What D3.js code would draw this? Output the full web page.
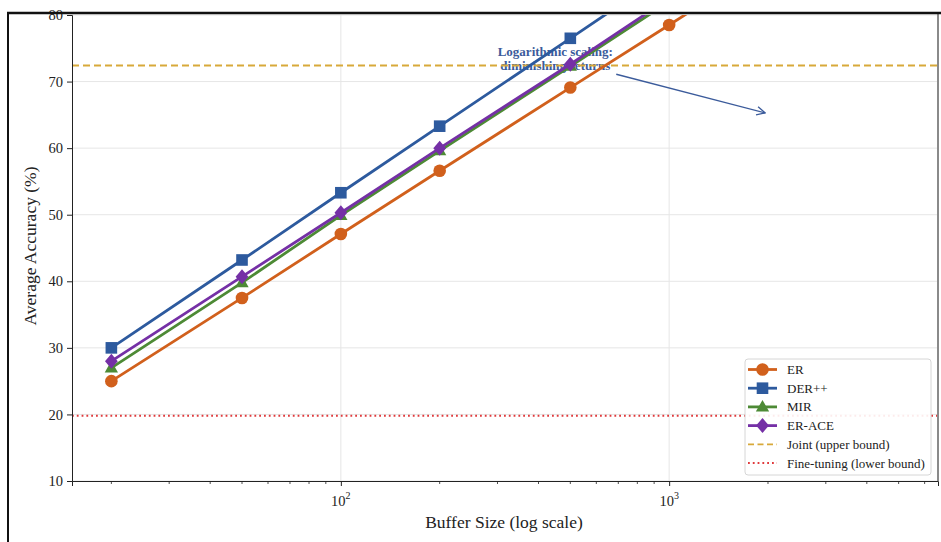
<!DOCTYPE html>
<html>
<head>
<meta charset="utf-8">
<script src="https://cdn.jsdelivr.net/npm/d3@7"></script>
<style>
  body { margin: 0; background: #fff; }
  svg { display: block; font-family: "Liberation Serif", "DejaVu Serif", serif; }
</style>
</head>
<body>
<div id="chart"></div>
<script>
// buffer sizes (log axis)
const bufferSizes = [20, 50, 100, 200, 500, 1000, 2000, 5000];

// average accuracy per method (above 80 is clipped)
const erAcc     = [25.0, 37.5, 47.1, 56.6, 69.1, 78.5, 88.0, 98.0];
const derAcc    = [30.0, 43.2, 53.3, 63.3, 76.5, 86.5, 95.5, 99.0];
const mirAcc    = [27.0, 39.8, 49.9, 59.6, 72.3, 82.0, 91.5, 98.5];
const eraceAcc  = [28.0, 40.7, 50.3, 60.0, 72.6, 82.5, 92.0, 98.8];

const jointAcc = 72.4;      // upper bound
const finetuneAcc = 19.8;   // lower bound

const yTicks = [10, 20, 30, 40, 50, 60, 70, 80];
const xMajorTicks = [100, 1000];
const xMinorTicks = [20, 30, 40, 50, 60, 70, 80, 90, 200, 300, 400, 500, 600, 700, 800, 900,
                     2000, 3000, 4000, 5000, 6000];

const legendLabels = ["ER", "DER++", "MIR", "ER-ACE", "Joint (upper bound)", "Fine-tuning (lower bound)"];

// annotation: text anchor (data) and arrow start/end (data)
const noteLines = ["Logarithmic scaling:", "diminishing returns"];
const notePos = [450, 73.85];
const arrowFrom = [690, 71.1];
const arrowTo = [1960, 65.3];

const series = [
  { name: "ER",     values: erAcc,    color: "#d1601c", marker: "circle" },
  { name: "DER++",  values: derAcc,   color: "#2d5a9e", marker: "square" },
  { name: "MIR",    values: mirAcc,   color: "#4d8a35", marker: "triangle" },
  { name: "ER-ACE", values: eraceAcc, color: "#7530a6", marker: "diamond" }
];

const W = 941, H = 542;
const margin = { top: 15, right: 3, bottom: 61, left: 72 };
const width = W - margin.left - margin.right,
      height = H - margin.top - margin.bottom;

const svg = d3.select("#chart").append("svg")
  .attr("width", W).attr("height", H);

const g = svg.append("g").attr("transform", `translate(${margin.left},${margin.top})`);

const lo = Math.log10(20), hi = Math.log10(5000), pad = (hi - lo) * 0.05;
const x = d3.scaleLog().domain([Math.pow(10, lo - pad), Math.pow(10, hi + pad)]).range([0, width]);
const y = d3.scaleLinear().domain([10, 80]).range([height, 0]);

// grid
g.append("g").selectAll("line").data(yTicks).enter().append("line")
  .attr("x1", 0).attr("x2", width)
  .attr("y1", d => y(d)).attr("y2", d => y(d))
  .attr("stroke", "#e6e6e6").attr("stroke-width", 1);
g.append("g").selectAll("line").data(xMajorTicks).enter().append("line")
  .attr("y1", 0).attr("y2", height)
  .attr("x1", d => x(d)).attr("x2", d => x(d))
  .attr("stroke", "#e6e6e6").attr("stroke-width", 1);

const defs = svg.append("defs");
defs.append("clipPath").attr("id", "clip")
  .append("rect").attr("width", width).attr("height", height);
defs.append("marker").attr("id", "arrowhead")
  .attr("viewBox", "0 0 10 10").attr("refX", 9).attr("refY", 5)
  .attr("markerWidth", 8).attr("markerHeight", 8).attr("orient", "auto")
  .append("path").attr("d", "M1,1 L9,5 L1,9")
  .attr("fill", "none").attr("stroke", "#3b5b9b").attr("stroke-width", 1.3);

// annotation (drawn below the lines)
const noteColor = "#3b5b9b";
g.append("text")
  .attr("x", x(notePos[0])).attr("y", y(notePos[1]))
  .attr("text-anchor", "middle")
  .attr("font-size", 13).attr("font-weight", "bold").attr("fill", noteColor)
  .selectAll("tspan").data(noteLines).enter().append("tspan")
  .attr("x", x(notePos[0])).attr("dy", (d, i) => i === 0 ? 0 : 14)
  .text(d => d);
g.append("line")
  .attr("x1", x(arrowFrom[0])).attr("y1", y(arrowFrom[1]))
  .attr("x2", x(arrowTo[0])).attr("y2", y(arrowTo[1]))
  .attr("stroke", noteColor).attr("stroke-width", 1.3)
  .attr("marker-end", "url(#arrowhead)");

const plot = g.append("g").attr("clip-path", "url(#clip)");

// reference lines
plot.append("line")
  .attr("x1", 0).attr("x2", width).attr("y1", y(jointAcc)).attr("y2", y(jointAcc))
  .attr("stroke", "#d8a93a").attr("stroke-width", 2).attr("stroke-dasharray", "7,4");
plot.append("line")
  .attr("x1", 0).attr("x2", width).attr("y1", y(finetuneAcc)).attr("y2", y(finetuneAcc))
  .attr("stroke", "#e0393b").attr("stroke-width", 1.8).attr("stroke-dasharray", "1.8,3");

const line = d3.line().x((d, i) => x(bufferSizes[i])).y(d => y(d));

function drawMarker(sel, type, color, s) {
  if (type === "circle") {
    sel.append("circle").attr("r", 6.3 * s).attr("fill", color);
  } else if (type === "square") {
    sel.append("rect").attr("x", -5.8 * s).attr("y", -5.8 * s)
      .attr("width", 11.6 * s).attr("height", 11.6 * s).attr("fill", color);
  } else if (type === "triangle") {
    const r = 7 * s;
    sel.append("path").attr("d", `M0,${-r} L${r * 0.95},${r * 0.65} L${-r * 0.95},${r * 0.65} Z`).attr("fill", color);
  } else {
    const r = 7.5 * s;
    sel.append("path").attr("d", `M0,${-r} L${r * 0.85},0 L0,${r} L${-r * 0.85},0 Z`).attr("fill", color);
  }
}

series.forEach(s => {
  plot.append("path").datum(s.values)
    .attr("d", line)
    .attr("fill", "none").attr("stroke", s.color).attr("stroke-width", 2.8);
  s.values.forEach((v, i) => {
    const m = plot.append("g").attr("transform", `translate(${x(bufferSizes[i])},${y(v)})`);
    drawMarker(m, s.marker, s.color, 1);
  });
});

// axes
const yAxis = g.append("g").call(d3.axisLeft(y).tickValues(yTicks).tickSize(5).tickPadding(4));
yAxis.select(".domain").attr("stroke", "#222");
yAxis.selectAll(".tick line").attr("stroke", "#222");
yAxis.selectAll("text").attr("font-size", 14.5).attr("fill", "#222")
  .attr("font-family", "Liberation Serif, serif");

const xAxis = g.append("g").attr("transform", `translate(0,${height})`)
  .call(d3.axisBottom(x).tickValues(xMajorTicks).tickSize(5).tickFormat(""));
xAxis.select(".domain").attr("stroke", "#222");
xAxis.selectAll(".tick line").attr("stroke", "#222");
g.append("g").attr("transform", `translate(0,${height})`)
  .selectAll("line").data(xMinorTicks).enter().append("line")
  .attr("x1", d => x(d)).attr("x2", d => x(d)).attr("y1", 0).attr("y2", 3)
  .attr("stroke", "#222").attr("stroke-width", 0.8);
const xl = g.append("g").selectAll("text").data(xMajorTicks).enter().append("text")
  .attr("x", d => x(d)).attr("y", height + 25)
  .attr("text-anchor", "middle").attr("font-size", 14.5).attr("fill", "#222");
xl.append("tspan").text("10");
xl.append("tspan").attr("font-size", 10).attr("dy", -7).text(d => Math.round(Math.log10(d)));

// axis titles
g.append("text")
  .attr("x", width / 2 - 1).attr("y", height + 47)
  .attr("text-anchor", "middle").attr("font-size", 17.5).attr("fill", "#222")
  .text("Buffer Size (log scale)");
g.append("text")
  .attr("transform", `translate(${-36},${height / 2 - 2}) rotate(-90)`)
  .attr("text-anchor", "middle").attr("font-size", 17.5).attr("fill", "#222")
  .text("Average Accuracy (%)");

// right spine
g.append("line").attr("x1", width).attr("x2", width).attr("y1", -3).attr("y2", height)
  .attr("stroke", "#8a8a8a").attr("stroke-width", 2);

// legend
const legend = g.append("g").attr("transform", `translate(${745 - margin.left},${359 - margin.top})`);
legend.append("rect").attr("width", 186).attr("height", 116).attr("rx", 3)
  .attr("fill", "#fff").attr("fill-opacity", 0.9).attr("stroke", "#d6d6d6");
const legendRows = legendLabels.map((lab, i) => ({ lab, i }));
legendRows.forEach(({ lab, i }) => {
  const ly = 10.5 + i * 18.7;
  const row = legend.append("g").attr("transform", `translate(0,${ly})`);
  if (i < 4) {
    const s = series[i];
    row.append("line").attr("x1", 3).attr("x2", 32).attr("y1", 0).attr("y2", 0)
      .attr("stroke", s.color).attr("stroke-width", 2.8);
    const m = row.append("g").attr("transform", "translate(17.5,0)");
    drawMarker(m, s.marker, s.color, 1);
  } else if (i === 4) {
    row.append("line").attr("x1", 3).attr("x2", 32).attr("y1", 0).attr("y2", 0)
      .attr("stroke", "#d8a93a").attr("stroke-width", 1.8).attr("stroke-dasharray", "6,3.5");
  } else {
    row.append("line").attr("x1", 3).attr("x2", 32).attr("y1", 0).attr("y2", 0)
      .attr("stroke", "#e0393b").attr("stroke-width", 1.8).attr("stroke-dasharray", "1.8,3");
  }
  row.append("text").attr("x", 42).attr("y", 4.5)
    .attr("font-size", 13).attr("fill", "#222").text(lab);
});

// outer frame (left and top edges)
svg.append("line").attr("x1", 8).attr("x2", 8).attr("y1", 12).attr("y2", H)
  .attr("stroke", "#111").attr("stroke-width", 2);
svg.append("line").attr("x1", 7).attr("x2", 941).attr("y1", 13).attr("y2", 13)
  .attr("stroke", "#111").attr("stroke-width", 2.5);
</script>
</body>
</html>
